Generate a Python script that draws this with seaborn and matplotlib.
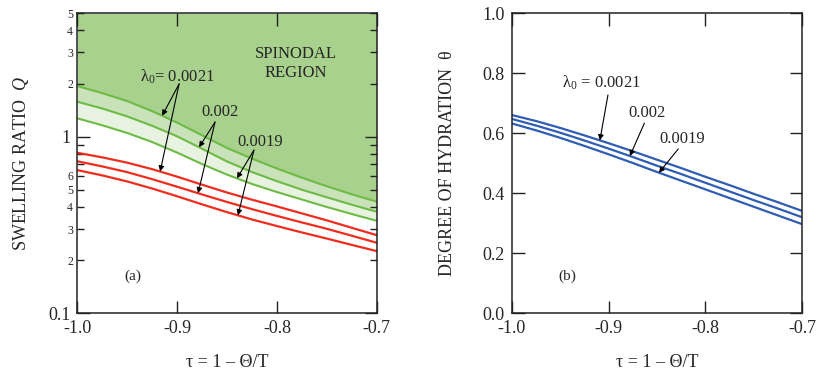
import numpy as np
import pandas as pd
import matplotlib
matplotlib.use("Agg")
import matplotlib.pyplot as plt
import seaborn as sns
from matplotlib.ticker import FixedLocator, FixedFormatter

# ---------------- data ----------------
tau = [-1.0, -0.975, -0.95, -0.925, -0.9, -0.875, -0.85,
       -0.825, -0.8, -0.775, -0.75, -0.725, -0.7]
lambda_labels = ["0.0021", "0.002", "0.0019"]

# spinodal boundary (green) swelling ratio Q
spin_0021 = [1.936, 1.766, 1.592, 1.396, 1.202, 1.019, 0.863,
             0.752, 0.661, 0.586, 0.524, 0.472, 0.429]
spin_0020 = [1.578, 1.445, 1.303, 1.153, 1.005, 0.855, 0.724,
             0.631, 0.560, 0.501, 0.454, 0.412, 0.376]
spin_0019 = [1.271, 1.161, 1.050, 0.933, 0.813, 0.700, 0.610,
             0.540, 0.486, 0.441, 0.400, 0.365, 0.334]

# equilibrium swelling ratio Q (red)
swell_0021 = [0.811, 0.764, 0.713, 0.655, 0.594, 0.535, 0.483,
              0.440, 0.403, 0.368, 0.336, 0.305, 0.277]
swell_0020 = [0.726, 0.679, 0.630, 0.575, 0.521, 0.471, 0.427,
              0.389, 0.356, 0.327, 0.301, 0.275, 0.251]
swell_0019 = [0.647, 0.604, 0.558, 0.509, 0.460, 0.414, 0.374,
              0.340, 0.312, 0.287, 0.265, 0.244, 0.225]

# degree of hydration theta (blue)
theta_0021 = [0.661, 0.641, 0.618, 0.593, 0.567, 0.540, 0.512,
              0.484, 0.455, 0.427, 0.398, 0.370, 0.341]
theta_0020 = [0.648, 0.626, 0.602, 0.576, 0.549, 0.521, 0.492,
              0.464, 0.435, 0.406, 0.377, 0.349, 0.320]
theta_0019 = [0.633, 0.610, 0.585, 0.558, 0.530, 0.501, 0.471,
              0.442, 0.413, 0.384, 0.355, 0.326, 0.297]

x_ticks = [-1.0, -0.9, -0.8, -0.7]
x_tick_labels = ["-1.0", "-0.9", "-0.8", "-0.7"]
q_major = [0.1, 1]
q_major_labels = ["0.1", "1"]
q_minor = [0.2, 0.3, 0.4, 0.5, 0.6, 0.7, 0.8, 0.9, 2, 3, 4, 5]
q_minor_labels = ["2", "3", "4", "5", "6", "", "", "", "2", "3", "4", "5"]
theta_ticks = [0.0, 0.2, 0.4, 0.6, 0.8, 1.0]
theta_tick_labels = ["0.0", "0.2", "0.4", "0.6", "0.8", "1.0"]

# ---------------- style ----------------
sns.set_theme(style="ticks")
plt.rcParams["font.family"] = ["Liberation Serif", "DejaVu Serif"]
plt.rcParams["mathtext.fontset"] = "custom"
plt.rcParams["mathtext.rm"] = "Liberation Serif"
plt.rcParams["mathtext.it"] = "Liberation Serif:italic"
plt.rcParams["axes.unicode_minus"] = False

GREEN_LINE = "#6dbb45"
GREEN_DARK = "#a9d18e"
GREEN_MID = "#c9e2b9"
GREEN_LIGHT = "#e8f2e0"
RED = "#ee2d1f"
BLUE = "#2f5db3"
SPINE = "#222222"

fig = plt.figure(figsize=(8.16, 3.75), dpi=100)
axL = fig.add_axes([77.3 / 816, 61.7 / 375, 299.4 / 816, 300 / 375])
axR = fig.add_axes([511.7 / 816, 61.7 / 375, 290.6 / 816, 300 / 375])

tick_fs = 13
label_fs = 13
ann_fs = 12

# ---------------- left panel ----------------
axL.set_yscale("log")
axL.fill_between(tau, spin_0021, 5, color=GREEN_DARK, lw=0, zorder=0)
axL.fill_between(tau, spin_0020, spin_0021, color=GREEN_MID, lw=0, zorder=0)
axL.fill_between(tau, spin_0019, spin_0020, color=GREEN_LIGHT, lw=0, zorder=0)

for arr in (spin_0021, spin_0020, spin_0019):
    sns.lineplot(x=tau, y=arr, ax=axL, color=GREEN_LINE, lw=1.5, zorder=2)
for arr in (swell_0021, swell_0020, swell_0019):
    sns.lineplot(x=tau, y=arr, ax=axL, color=RED, lw=1.6, zorder=2)

axL.set_xlim(-1.0, -0.7)
axL.set_ylim(0.1, 5)
axL.xaxis.set_major_locator(FixedLocator(x_ticks))
axL.xaxis.set_major_formatter(FixedFormatter(x_tick_labels))
axL.yaxis.set_major_locator(FixedLocator(q_major))
axL.yaxis.set_major_formatter(FixedFormatter(q_major_labels))
axL.yaxis.set_minor_locator(FixedLocator(q_minor))
axL.yaxis.set_minor_formatter(FixedFormatter(q_minor_labels))
axL.tick_params(axis="both", which="major", direction="in", top=True, right=True,
                length=9, width=1, labelsize=tick_fs, pad=5, color=SPINE)
axL.tick_params(axis="y", which="minor", direction="in", right=True,
                length=5, width=1, labelsize=8.5, pad=3, color=SPINE)
axL.set_xlabel("τ = 1 – Θ/T", fontsize=label_fs, labelpad=12)
axL.set_ylabel("SWELLING RATIO  $Q$", fontsize=label_fs, labelpad=12)

def qat(t, arr):
    return 10 ** np.interp(t, tau, np.log10(arr))

arrow_kw = dict(arrowstyle="-|>", color="black", lw=0.8, mutation_scale=8,
                shrinkA=0, shrinkB=0)

axL.text(-0.781, 2.61, "SPINODAL\nREGION", ha="center", va="center",
         fontsize=ann_fs, linespacing=1.25)
axL.text(-0.900, 2.18, "λ$_0$= " + lambda_labels[0], ha="center", va="center", fontsize=ann_fs)
axL.text(-0.857, 1.38, lambda_labels[1], ha="center", va="center", fontsize=ann_fs)
axL.text(-0.817, 0.933, lambda_labels[2], ha="center", va="center", fontsize=ann_fs)

left_arrows = [
    ((-0.898, 1.99), -0.915, spin_0021, -0.917, swell_0021),
    ((-0.862, 1.21), -0.878, spin_0020, -0.879, swell_0020),
    ((-0.823, 0.84), -0.840, spin_0019, -0.839, swell_0019),
]
for start, tg, ga, tr, ra in left_arrows:
    axL.annotate("", xy=(tg, qat(tg, ga)), xytext=start, arrowprops=arrow_kw, zorder=3)
    axL.annotate("", xy=(tr, qat(tr, ra)), xytext=start, arrowprops=arrow_kw, zorder=3)

axL.text(-0.944, 0.163, "(a)", ha="center", va="center", fontsize=11)

# ---------------- right panel ----------------
for arr in (theta_0021, theta_0020, theta_0019):
    sns.lineplot(x=tau, y=arr, ax=axR, color=BLUE, lw=1.6, zorder=2)

axR.set_xlim(-1.0, -0.7)
axR.set_ylim(0.0, 1.0)
axR.xaxis.set_major_locator(FixedLocator(x_ticks))
axR.xaxis.set_major_formatter(FixedFormatter(x_tick_labels))
axR.yaxis.set_major_locator(FixedLocator(theta_ticks))
axR.yaxis.set_major_formatter(FixedFormatter(theta_tick_labels))
axR.tick_params(axis="both", which="major", direction="in", top=True, right=True,
                length=9, width=1, labelsize=tick_fs, pad=5, color=SPINE)
axR.set_xlabel("τ = 1 – Θ/T", fontsize=label_fs, labelpad=12)
axR.set_ylabel("DEGREE OF HYDRATION  θ", fontsize=label_fs, labelpad=19)

axR.text(-0.907, 0.768, "λ$_0$ = " + lambda_labels[0], ha="center", va="center", fontsize=ann_fs)
axR.text(-0.860, 0.668, lambda_labels[1], ha="center", va="center", fontsize=ann_fs)
axR.text(-0.824, 0.580, lambda_labels[2], ha="center", va="center", fontsize=ann_fs)

right_arrows = [
    ((-0.9006, 0.728), -0.909, theta_0021),
    ((-0.863, 0.634), -0.878, theta_0020),
    ((-0.828, 0.548), -0.848, theta_0019),
]
for start, tt, arr in right_arrows:
    axR.annotate("", xy=(tt, np.interp(tt, tau, arr)), xytext=start,
                 arrowprops=arrow_kw, zorder=3)

axR.text(-0.943, 0.124, "(b)", ha="center", va="center", fontsize=11)

for ax in (axL, axR):
    for s in ax.spines.values():
        s.set_visible(True)
        s.set_color(SPINE)
        s.set_linewidth(1.1)
    ax.set_facecolor("white")

fig.savefig("out.png", dpi=100)
